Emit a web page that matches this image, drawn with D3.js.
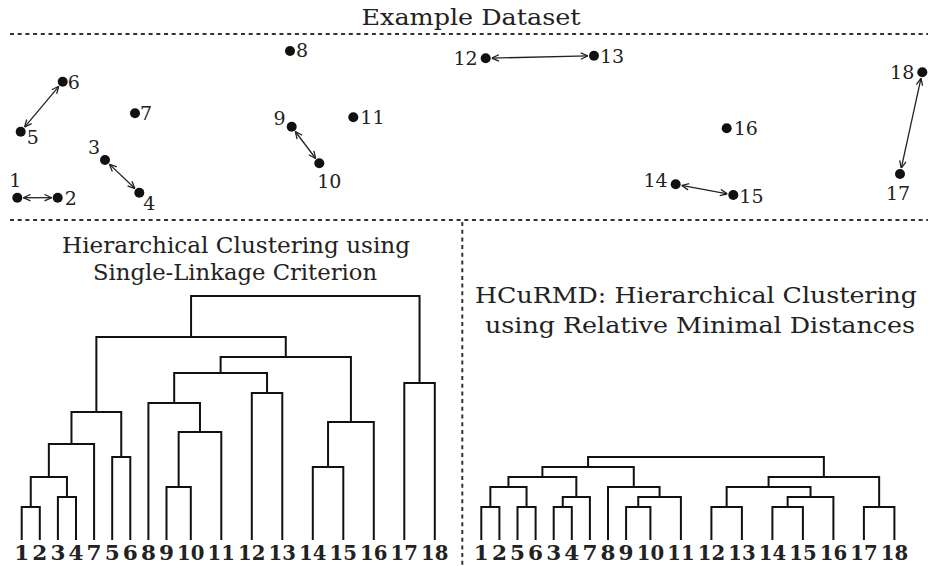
<!DOCTYPE html>
<html>
<head>
<meta charset="utf-8">
<script src="https://cdn.jsdelivr.net/npm/d3@7/dist/d3.min.js"></script>
<style>
  body { margin: 0; background: #fff; }
  text { font-family: 'DejaVu Serif', serif; fill: #222; }
</style>
</head>
<body>
<script>
// example dataset: 18 points (arbitrary units)
let pointIds = ['1','2','3','4','5','6','7','8','9','10','11','12','13','14','15','16','17','18'];
let pointX = [0, 40.4, 87.7, 122, 3.4, 45.4, 117.7, 272.7, 274.4, 302, 336, 468.4, 576.7, 658.4, 716, 709.4, 882.7, 905];
let pointY = [0, 0, 37.7, 5, 66, 116, 84.4, 146.7, 71, 34.4, 80.4, 139.4, 142, 13.4, 2.7, 69.4, 23.7, 125.4];

// mutual nearest neighbours, drawn as double arrows
let arrowPairs = [['1','2'], ['3','4'], ['5','6'], ['9','10'], ['12','13'], ['14','15'], ['17','18']];

// single-linkage dendrogram: [childA, childB, height], 'mN' = merge N
let slLeaves = ['1','2','3','4','7','5','6','8','9','10','11','12','13','14','15','16','17','18'];
let slMerges = [
  ['1', '2', 3.3],      // m0
  ['3', '4', 4.3],      // m1
  ['m0', 'm1', 6.3],    // m2
  ['m2', '7', 9.6],     // m3
  ['5', '6', 8.3],      // m4
  ['m3', 'm4', 12.8],   // m5
  ['9', '10', 5.3],     // m6
  ['m6', '11', 10.8],   // m7
  ['8', 'm7', 13.7],    // m8
  ['12', '13', 14.7],   // m9
  ['m8', 'm9', 16.7],   // m10
  ['14', '15', 7.3],    // m11
  ['m11', '16', 11.8],  // m12
  ['m10', 'm12', 18.3], // m13
  ['m5', 'm13', 20.3],  // m14
  ['17', '18', 15.7],   // m15
  ['m14', 'm15', 24.4]  // m16
];

// HCuRMD dendrogram
let hcLeaves = ['1','2','5','6','3','4','7','8','9','10','11','12','13','14','15','16','17','18'];
let hcMerges = [
  ['1', '2', 3.3],      // m0
  ['5', '6', 3.3],      // m1
  ['m0', 'm1', 5.3],    // m2
  ['3', '4', 3.3],      // m3
  ['m3', '7', 4.3],     // m4
  ['m2', 'm4', 6.3],    // m5
  ['9', '10', 3.3],     // m6
  ['m6', '11', 4.3],    // m7
  ['8', 'm7', 5.3],     // m8
  ['m5', 'm8', 7.3],    // m9
  ['12', '13', 3.3],    // m10
  ['14', '15', 3.3],    // m11
  ['m11', '16', 4.3],   // m12
  ['m10', 'm12', 5.3],  // m13
  ['17', '18', 3.3],    // m14
  ['m13', 'm14', 6.3],  // m15
  ['m9', 'm15', 8.3]    // m16
];

// where each point label sits relative to its dot
let labelPlace = {
  '1': [-2, -11, 'middle'], '2': [7, 7, 'start'], '3': [-5, -6, 'end'], '4': [4, 17, 'start'],
  '5': [6, 12, 'start'], '6': [5, 7, 'start'], '7': [5, 7, 'start'], '8': [6, 6, 'start'],
  '9': [-6, -2, 'end'], '10': [10, 25, 'middle'], '11': [7, 7, 'start'], '12': [-8, 7, 'end'],
  '13': [6, 7, 'start'], '14': [-8, 3, 'end'], '15': [6, 8, 'start'], '16': [7, 7, 'start'],
  '17': [-2, 26, 'middle'], '18': [-8, 7, 'end']
};

let svg = d3.select('body').append('svg').attr('width', 928).attr('height', 566);

// dotted separators
function dotted(x1, y1, x2, y2) {
  svg.append('line')
    .attr('x1', x1).attr('y1', y1).attr('x2', x2).attr('y2', y2)
    .attr('stroke', '#333').attr('stroke-width', 2)
    .attr('stroke-dasharray', '4,3.7');
}
dotted(10, 34, 928, 34);
dotted(10, 220, 928, 220);
dotted(462.3, 222, 462.3, 566);

function title(txt, x, y, len, size) {
  svg.append('text').attr('x', x).attr('y', y)
    .attr('text-anchor', 'middle')
    .attr('font-size', size)
    .attr('textLength', len).attr('lengthAdjust', 'spacingAndGlyphs')
    .text(txt);
}
title('Example Dataset', 471, 25, 219, 22);
title('Hierarchical Clustering using', 236, 253, 348, 22);
title('Single-Linkage Criterion', 235, 280, 284, 22);
title('HCuRMD: Hierarchical Clustering', 696, 303, 442, 23);
title('using Relative Minimal Distances', 700, 333, 430, 23);

// ---- scatter ----
let sx = d3.scaleLinear().domain([0, 905]).range([17.3, 922.3]);
let sy = d3.scaleLinear().domain([0, 150]).range([197.7, 47.7]);
let points = pointIds.map(function(id, i) { return {id: id, x: sx(pointX[i]), y: sy(pointY[i])}; });
let byId = {};
points.forEach(function(p) { byId[p.id] = p; });

svg.append('defs').append('marker')
  .attr('id', 'head')
  .attr('viewBox', '0 -5 10 10')
  .attr('refX', 10).attr('refY', 0)
  .attr('markerWidth', 8).attr('markerHeight', 8)
  .attr('markerUnits', 'userSpaceOnUse')
  .attr('orient', 'auto-start-reverse')
  .append('path')
  .attr('d', 'M1,-4L10,0L1,4')
  .attr('fill', 'none').attr('stroke', '#222').attr('stroke-width', 1.6);

let shorten = 6;
svg.selectAll('line.arrow').data(arrowPairs).enter().append('line')
  .attr('class', 'arrow')
  .each(function(d) {
    let a = byId[d[0]], b = byId[d[1]];
    let dx = b.x - a.x, dy = b.y - a.y, len = Math.sqrt(dx * dx + dy * dy);
    let ux = dx / len, uy = dy / len;
    d3.select(this)
      .attr('x1', a.x + ux * shorten).attr('y1', a.y + uy * shorten)
      .attr('x2', b.x - ux * shorten).attr('y2', b.y - uy * shorten);
  })
  .attr('stroke', '#222').attr('stroke-width', 1.3)
  .attr('marker-start', 'url(#head)').attr('marker-end', 'url(#head)');

svg.selectAll('circle').data(points).enter().append('circle')
  .attr('cx', function(d) { return d.x; })
  .attr('cy', function(d) { return d.y; })
  .attr('r', 5)
  .attr('fill', '#111');

svg.selectAll('text.plabel').data(points).enter().append('text')
  .attr('class', 'plabel')
  .attr('x', function(d) { return d.x + labelPlace[d.id][0]; })
  .attr('y', function(d) { return d.y + labelPlace[d.id][1]; })
  .attr('text-anchor', function(d) { return labelPlace[d.id][2]; })
  .attr('font-size', 19)
  .text(function(d) { return d.id; });

// ---- dendrograms ----
let hy = d3.scaleLinear().domain([0, 25]).range([540, 290]);

function dendrogram(leaves, merges, x0) {
  let g = svg.append('g');
  let pos = {};
  let cur = x0;
  // leaf slots follow the width of their labels
  leaves.forEach(function(id) {
    let w = id.length === 1 ? 15 : 27.4;
    pos[id] = {x: cur + w / 2, h: 0, w: w};
    cur += w + 3.1;
  });

  g.selectAll('text').data(leaves).enter().append('text')
    .attr('x', function(d) { return pos[d].x; })
    .attr('y', 560)
    .attr('text-anchor', 'middle')
    .attr('font-size', 20.5)
    .attr('font-weight', 'bold')
    .attr('fill', '#3a3a3a')
    .attr('textLength', function(d) { return pos[d].w; })
    .attr('lengthAdjust', 'spacingAndGlyphs')
    .text(function(d) { return d; });

  merges.forEach(function(m, i) {
    let a = pos[m[0]], b = pos[m[1]];
    pos['m' + i] = {x: (a.x + b.x) / 2, h: m[2]};
  });

  g.selectAll('path').data(merges).enter().append('path')
    .attr('d', function(m) {
      let a = pos[m[0]], b = pos[m[1]];
      return 'M' + a.x + ',' + hy(a.h) + 'V' + hy(m[2]) + 'H' + b.x + 'V' + hy(b.h);
    })
    .attr('fill', 'none')
    .attr('stroke', '#111')
    .attr('stroke-width', 2);
}

dendrogram(slLeaves, slMerges, 14.2);
dendrogram(hcLeaves, hcMerges, 473.8);
</script>
</body>
</html>
